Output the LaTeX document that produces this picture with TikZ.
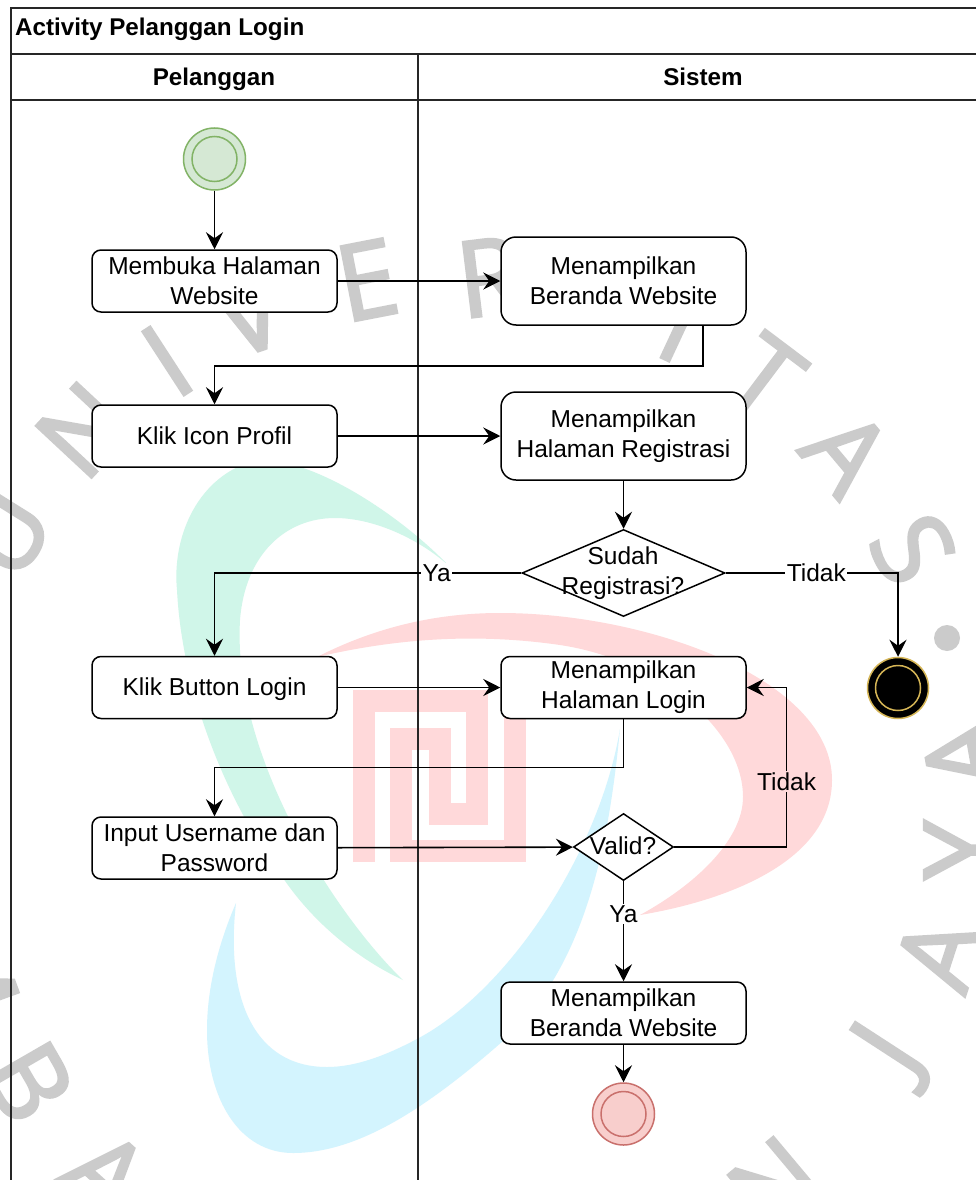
\documentclass[tikz,border=0pt]{standalone}
\usepackage{fontspec}
\setmainfont{Liberation Sans}
\newfontfamily\wmfont[RawFeature={embolden=2.5}]{Open Sans}
\usetikzlibrary{shapes.geometric,arrows.meta}

\definecolor{wmgray}{HTML}{CBCBCB}
\definecolor{wmgreen}{HTML}{D0F6E9}
\definecolor{wmpink}{HTML}{FFD9DA}
\definecolor{wmblue}{HTML}{D3F4FE}
\definecolor{startgreen}{HTML}{D5E8D4}
\definecolor{startline}{HTML}{82B366}
\definecolor{stopred}{HTML}{F8CECC}
\definecolor{stopline}{HTML}{C9706C}
\definecolor{endline}{HTML}{D6B656}

\begin{document}
\begin{tikzpicture}[x=1pt,y=-1pt,
      every node/.style={align=center,font=\fontsize{24.5}{30}\selectfont},
      lanehead/.style={font=\fontsize{24.2}{30}\selectfont\bfseries,text height=17.5pt,text depth=5.5pt},
      laneline/.style={draw=black!85,line width=1.5pt},
      action/.style={draw,fill=white,rectangle,rounded corners=9pt,line width=1.5pt,
        minimum width=245pt,minimum height=62pt,inner sep=0pt},
      tall/.style={action,rounded corners=15pt,minimum height=88pt},
      decision/.style={draw,fill=white,diamond,line width=1.5pt,inner sep=0pt},
      edgelabel/.style={fill=white,inner sep=1.5pt},
      flow/.style={-{Stealth[length=17pt,width=17pt,inset=6pt]},line width=1.6pt},
      startpt/.style={circle,draw=startline,fill=startgreen,line width=1.5pt,inner sep=0pt},
      stoppt/.style={circle,draw=stopline,fill=stopred,line width=1.5pt,inner sep=0pt},
      endpt/.style={circle,draw=endline,fill=black,line width=1.5pt,inner sep=0pt},
      wmletter/.style={text=wmgray,inner sep=0pt,font=\fontsize{106}{106}\selectfont\wmfont}]
    \path[use as bounding box,fill=white] (0,0) rectangle (976,1180);
    \clip (0,0) rectangle (976,1180);

    \foreach \ch/\px/\py/\rot [count=\n] in {U/5/533/58,N/84/430/47,I/167/361/33,
        V/250/314/19,E/367/280/11,R/490/277/7,I/681/325/-25,T/765/377/-37,A/847/452/-50,
        S/913/549/-62,A/964/755/100,Y/962/850/90,A/939/953/72,J/893/1052/57,
        N/775/1185/40,M/-30/970/-70,B/29/1082/-60,A/106/1174/-42}
        \node[wmletter,rotate=\rot] (wm\n) at (\px,\py) {\ch};
    \node[circle,fill=wmgray,inner sep=0pt,minimum size=26pt] (wmdot) at (947,638) {};

    \fill[wmgreen] (448,565) .. controls (395,510) and (300,450) .. (250,462)
        .. controls (195,480) and (172,540) .. (177,590)
        .. controls (182,690) and (225,800) .. (283,878)
        .. controls (315,925) and (360,960) .. (403,980)
        .. controls (340,920) and (232,760) .. (240,620)
        .. controls (245,555) and (285,518) .. (335,518)
        .. controls (375,518) and (420,540) .. (448,565) -- cycle;
    \fill[wmblue] (236,903) .. controls (220,940) and (207,985) .. (207,1030)
        .. controls (207,1100) and (240,1153) .. (293,1153)
        .. controls (360,1153) and (430,1105) .. (503,1041)
        .. controls (590,965) and (610,830) .. (620,729)
        .. controls (600,850) and (510,990) .. (417,1039)
        .. controls (385,1056) and (355,1067) .. (327,1067)
        .. controls (255,1067) and (225,1000) .. (236,903) -- cycle;
    \fill[wmpink] (317,657) .. controls (370,630) and (430,613) .. (500,613)
        .. controls (650,613) and (832,680) .. (832,780)
        .. controls (832,860) and (730,900) .. (640,915)
        .. controls (695,885) and (743,840) .. (743,797)
        .. controls (743,730) and (660,660) .. (560,645)
        .. controls (470,632) and (390,640) .. (317,657) -- cycle;
    \draw[wmpink,line width=22pt] (364,862) -- (364,701) -- (477,701) -- (477,814)
        -- (440,814) -- (440,739) -- (401,739) -- (401,851) -- (515,851) -- (515,700);

    \draw[laneline] (11,1190) -- (11,8) -- (990,8);
    \draw[laneline] (11,54) -- (990,54);
    \draw[laneline] (11,100) -- (990,100);
    \draw[laneline] (418,54) -- (418,1190);
    \node[lanehead,anchor=west,inner sep=0pt] (title) at (15,30) {Activity Pelanggan Login};
    \node[lanehead] (lane1) at (214,80) {Pelanggan};
    \node[lanehead] (lane2) at (703,80) {Sistem};

    \node[startpt,minimum size=62pt] (start) at (214.5,159) {};
    \node[startpt,minimum size=45pt] (startin) at (start) {};
    \node[action] (act1) at (214.5,281) {Membuka Halaman\\Website};
    \node[action] (act2) at (214.5,436) {Klik Icon Profil};
    \node[action,text depth=2.5pt] (act3) at (214.5,687.5) {Klik Button Login};
    \node[action] (act4) at (214.5,848) {Input Username dan\\Password};
    \node[tall] (sys1) at (623.5,281) {Menampilkan\\Beranda Website};
    \node[tall] (sys2) at (623.5,436) {Menampilkan\\Halaman Registrasi};
    \node[action] (sys3) at (623.5,687.5) {Menampilkan\\Halaman Login};
    \node[action] (sys4) at (623.5,1013) {Menampilkan\\Beranda Website};
    \node[decision,aspect=2.33,minimum width=203pt,minimum height=87pt] (dec1) at (623.5,573) {};
    \node[inner sep=0pt] (dec1txt) at (623,573) {Sudah\\Registrasi?};
    \node[decision,aspect=1.49,minimum width=100pt,minimum height=67pt] (dec2) at (623.5,847) {};
    \node[inner sep=0pt] (dec2txt) at (623,846) {Valid?};
    \node[endpt,minimum size=61pt] (finish) at (898,688) {};
    \node[endpt,minimum size=45pt] (finishin) at (finish) {};
    \node[stoppt,minimum size=62pt] (stop) at (623.5,1114) {};
    \node[stoppt,minimum size=45pt] (stopin) at (stop) {};

    \draw[flow] (start) -- (act1);
    \draw[flow] (act1) -- (sys1);
    \draw[flow] ([xshift=79.5pt]sys1.south) -- ++(0,40) -| (act2);
    \draw[flow] (act2) -- (sys2);
    \draw[flow] (sys2) -- (dec1);
    \draw[flow] (dec1) -| node[edgelabel,pos=0.138] (ya1) {Ya} (act3);
    \draw[flow] (dec1) -| node[edgelabel,pos=0.263] (no1) {Tidak} (finish);
    \draw[flow] (act3) -- (sys3);
    \draw[flow] (sys3) -- ++(0,80) -| (act4);
    \draw[flow] (act4) -- (dec2);
    \draw[flow] (dec2) -- ++(163,0) |- node[edgelabel,fill=wmpink,pos=0.206] (no2) {Tidak} (sys3);
    \draw[flow] (dec2) -- node[edgelabel,pos=0.33] (ya2) {Ya} (sys4);
    \draw[flow] (sys4) -- (stop);
  \end{tikzpicture}
\end{document}
